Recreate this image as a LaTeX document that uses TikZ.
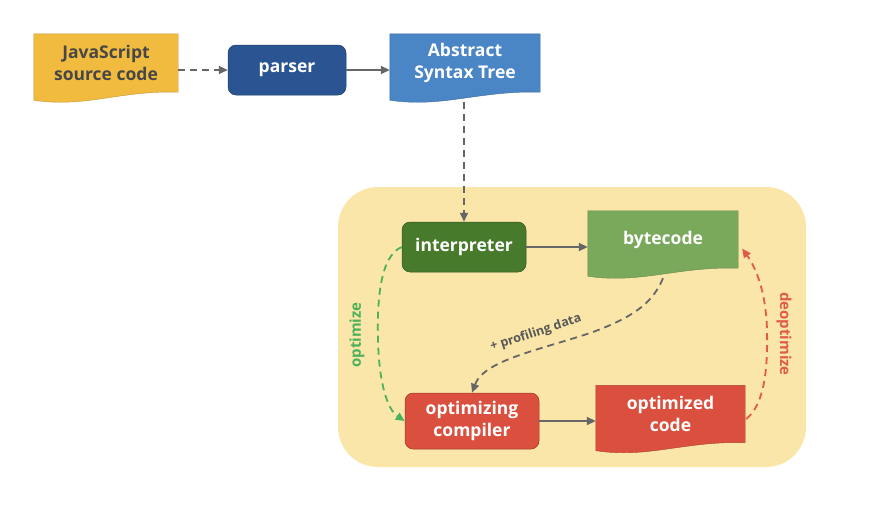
\documentclass[tikz,border=0pt]{standalone}
\usepackage{fontspec}
\setmainfont{Open Sans}
\usetikzlibrary{arrows.meta,backgrounds,calc}
\definecolor{jsyellow}{HTML}{F1BB3F}
\definecolor{parserblue}{HTML}{2B5592}
\definecolor{astblue}{HTML}{4A85C5}
\definecolor{bgyellow}{HTML}{FBE6A9}
\definecolor{interpgreen}{HTML}{487A2C}
\definecolor{bcgreen}{HTML}{7AA95C}
\definecolor{optred}{HTML}{DA4F3E}
\definecolor{arrowgray}{HTML}{666666}
\definecolor{optgreen}{HTML}{4DB05A}
\definecolor{deoptred}{HTML}{E25A4A}
\definecolor{jstext}{HTML}{474747}
\tikzset{
  lbl/.style={font=\bfseries\fontsize{17.5}{22}\selectfont, align=center, inner sep=0pt},
  procbox/.style={lbl, rounded corners=8pt, text=white, draw=#1!70!black, line width=0.5pt, fill=#1},
  docnode/.style={lbl, rectangle},
  conn/.style={draw=arrowgray, line width=1.8pt, -{Triangle[length=9pt,width=8pt]}},
  dconn/.style={conn, dash pattern=on 7pt off 5pt},
  curvelbl/.style={font=\bfseries\fontsize{15}{17}\selectfont, inner sep=1pt},
}
\newcommand{\docfill}[2]{%
  \fill[#2, draw=#2!80!black, line width=0.4pt] (#1.north west) -- (#1.north east) -- (#1.south east)
    .. controls ($(#1.south east)!0.4!(#1.south west)+(0,-2)$) and ($(#1.south west)!0.35!(#1.south east)+(0,16)$) ..
    ($(#1.south west)+(0,8)$) -- cycle;}
\begin{document}
\begin{tikzpicture}[x=1pt,y=-1pt]
\useasboundingbox (0,0) rectangle (884,525);
% nodes
\node[docnode, text=jstext, minimum width=144pt, minimum height=58pt] (js) at (106,63) {JavaScript\\source code};
\node[procbox=parserblue, minimum width=118pt, minimum height=50pt] (parser) at (287,70) {parser};
\node[docnode, text=white, minimum width=150pt, minimum height=58pt] (ast) at (465,63) {Abstract\\Syntax Tree};
\node[procbox=interpgreen, minimum width=124pt, minimum height=50pt] (interp) at (464,247) {interpreter};
\node[docnode, text=white, minimum width=150pt, minimum height=57pt] (bc) at (663,239.5) {bytecode};
\node[procbox=optred, minimum width=134pt, minimum height=56pt] (comp) at (472,421) {optimizing\\compiler};
\node[docnode, text=white, minimum width=149pt, minimum height=57pt] (oc) at (670.5,414) {optimized\\code};
\begin{pgfonlayer}{background}
% engine background
\node[fill=bgyellow, rounded corners=40pt, minimum width=468pt, minimum height=280pt, inner sep=0pt] (engine) at (572,327) {};
\docfill{js}{jsyellow}
\docfill{ast}{astblue}
\docfill{bc}{bcgreen}
\docfill{oc}{optred}
\end{pgfonlayer}
% connectors
\draw[dconn] (js.east |- parser.west) -- (parser.west);
\draw[conn] (parser.east) -- (parser.east -| ast.west);
\draw[dconn] ($(ast.south)+(-1,10)$) -- (interp.north);
\draw[conn] (interp.east) -- (interp.east -| bc.west);
\draw[conn] (comp.east) -- (comp.east -| oc.west);
% optimize
\draw[dconn, draw=optgreen] (interp.west) .. controls (380,256) and (377,300) .. (378,340)
   .. controls (379,385) and (388,410) .. (comp.west);
\node[curvelbl, text=optgreen, rotate=90] (optlbl) at (357,335) {optimize};
% deoptimize
\draw[dconn, draw=deoptred] ($(oc.east)+(1,5)$) .. controls (764,405) and (768,370) .. (767,330)
   .. controls (766,292) and (756,268) .. ($(bc.east)+(4,9)$);
\node[curvelbl, text=deoptred, rotate=-90] (deoptlbl) at (784,334) {deoptimize};
% profiling data
\draw[dconn] ($(bc.south)+(0,10)$) .. controls (652,305) and (630,318) .. (593,332)
   .. controls (540,350) and (484,360) .. (comp.north);
\node[font=\bfseries\fontsize{12.5}{14}\selectfont, text=arrowgray!85!black, rotate=18, inner sep=1pt] (proflbl) at (536,333) {+ profiling data};
\end{tikzpicture}
\end{document}
